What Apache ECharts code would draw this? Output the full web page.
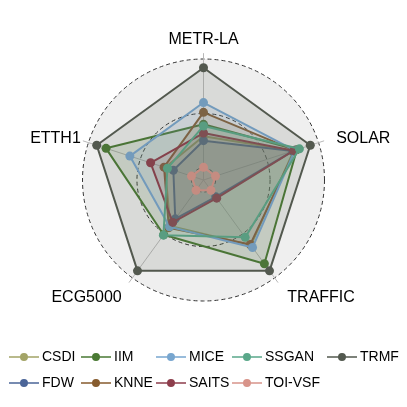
<!DOCTYPE html>
<html><head><meta charset="utf-8">
<script src="https://cdn.jsdelivr.net/npm/echarts@6/dist/echarts.min.js"></script>
<style>html,body{margin:0;padding:0;background:#fff}#c{width:407px;height:407px}</style>
</head><body><div id="c"></div>
<script>
// axes in clockwise order from top (as in the reference)
const axesCW = ['METR-LA', 'SOLAR', 'TRAFFIC', 'ECG5000', 'ETTH1'];
const methods = ['CSDI', 'FDW', 'IIM', 'KNNE', 'MICE', 'SAITS', 'SSGAN', 'TOI-VSF', 'TRMF'];
const CSDI   = [0.29, 0.76, 0.63, 0.41, 0.26];
const FDW    = [0.25, 0.75, 0.08, 0.33, 0.18];
const IIM    = [0.40, 0.79, 0.84, 0.51, 0.83];
const KNNE   = [0.51, 0.77, 0.62, 0.43, 0.27];
const MICE   = [0.60, 0.77, 0.655, 0.42, 0.60];
const SAITS  = [0.32, 0.76, 0.095, 0.37, 0.40];
const SSGAN  = [0.385, 0.815, 0.54, 0.515, 0.237];
const TOIVSF = [0.005, 0.005, 0.005, 0.005, 0.005];
const TRMF   = [0.92, 0.92, 0.92, 0.92, 0.92];
const seriesValues = [CSDI, FDW, IIM, KNNE, MICE, SAITS, SSGAN, TOIVSF, TRMF];
const colors = ['#a3a467', '#4b6598', '#4a7a34', '#865b2e', '#78a6cf', '#8d3e4c', '#5aa88a', '#d8948a', '#53594f'];
const legendCols = [['CSDI', 'FDW'], ['IIM', 'KNNE'], ['MICE', 'SAITS'], ['SSGAN', 'TOI-VSF'], ['TRMF']];
const legendLeft = [4, 76, 151, 227, 322];

const gridMin = 0, gridMax = 1;
const centreY = gridMin - (gridMax - gridMin) / 9;
// ECharts radar runs counter-clockwise; reorder
const order = [0, 4, 3, 2, 1];
const indicator = order.map(i => ({ name: axesCW[i], min: centreY, max: gridMax }));
const plain = order.map(() => ({ name: '', min: centreY, max: gridMax }));
const nameKeys = { 'METR-LA': 't', 'SOLAR': 'r', 'TRAFFIC': 'br', 'ECG5000': 'bl', 'ETTH1': 'l' };

const C = [203.5, 180], R = 121;
const splitColors = [];
for (let i = 0; i <= 20; i++) splitColors.push((i === 2 || i === 11 || i === 20) ? '#333333' : 'rgba(0,0,0,0)');

const icon = 'path://M0,3.7 L30,3.7 L30,5.3 L0,5.3 Z M15,0.5 A4,4 0 1 1 14.99,0.5 Z';
const nameFont = { fontSize: 16, color: '#000', fontFamily: 'Liberation Sans, Arial, sans-serif' };

const option = {
  animation: false,
  color: colors,
  textStyle: { fontFamily: 'Liberation Sans, Arial, sans-serif' },
  radar: [
    { center: C, radius: R, shape: 'circle', indicator: plain, splitNumber: 1,
      axisName: { show: false }, axisLine: { show: false }, axisTick: { show: false },
      splitLine: { show: false }, splitArea: { show: true, areaStyle: { color: ['#efefef'] } } },
    { center: C, radius: R * 1.045, shape: 'circle', indicator: plain, splitNumber: 1,
      axisName: { show: false }, axisLine: { show: true, lineStyle: { color: '#b8b8b8', width: 1 } },
      splitLine: { show: false }, splitArea: { show: false } },
    { center: C, radius: R, shape: 'circle', indicator: indicator, splitNumber: 20, nameGap: 8,
      axisName: {
        color: '#000', fontSize: 16,
        formatter: (name) => '{' + nameKeys[name] + '|' + name + '}',
        rich: {
          t: Object.assign({ padding: [0, 0, 3, 0] }, nameFont),
          r: Object.assign({ padding: [0, 0, 4, 10] }, nameFont),
          l: Object.assign({ padding: [0, 0, 4, 0] }, nameFont),
          bl: Object.assign({ padding: [26, 6, 0, 0] }, nameFont),
          br: Object.assign({ padding: [26, 0, 0, 8] }, nameFont)
        }
      },
      axisLine: { show: false }, axisTick: { show: false },
      splitLine: { show: true, lineStyle: { color: splitColors, type: [4, 3], width: 1 } },
      splitArea: { show: false } }
  ],
  legend: legendCols.map((col, k) => ({
    orient: 'vertical', left: legendLeft[k], top: 345, data: col, icon: icon,
    itemWidth: 30, itemHeight: 10, itemGap: 12,
    textStyle: { fontSize: 14, color: '#000', padding: [0, 0, 0, -2] }
  })),
  series: methods.map((m, k) => ({
    type: 'radar', radarIndex: 2, name: m, z: 2 + k,
    symbol: 'circle', symbolSize: 9,
    lineStyle: { width: 2, color: colors[k] },
    itemStyle: { color: colors[k] },
    areaStyle: { color: colors[k], opacity: 0.14 },
    data: [{ name: m, value: order.map(i => seriesValues[k][i]) }]
  }))
};
echarts.init(document.getElementById('c')).setOption(option);
</script></body></html>
